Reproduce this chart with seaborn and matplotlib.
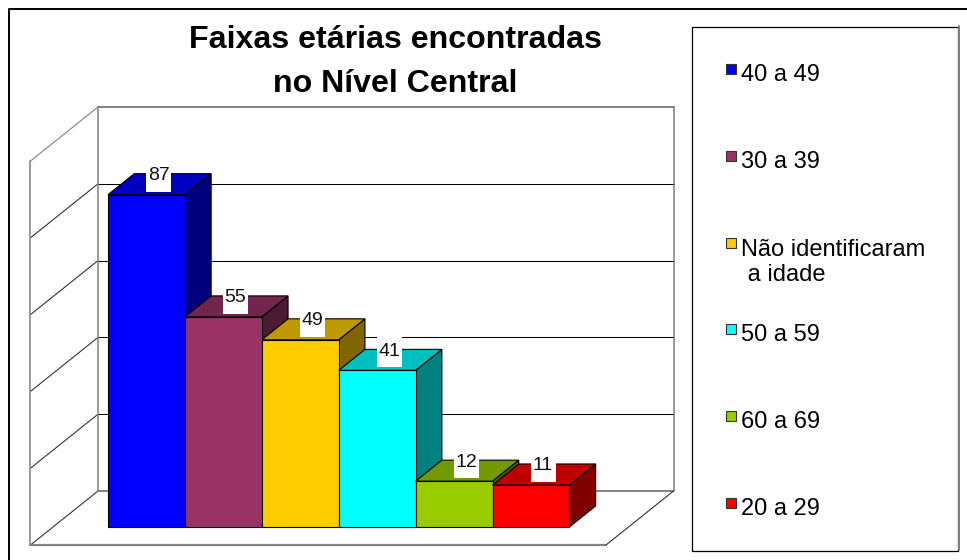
#!/usr/bin/env python3
"""Faixas etarias no Nivel Central: Excel-style 3D column chart."""

import matplotlib
matplotlib.use("Agg")
import matplotlib.patches as mpatches
import matplotlib.lines as mlines
import matplotlib.pyplot as plt
from matplotlib.transforms import Affine2D
import pandas as pd
import seaborn as sns

TITLE = "Faixas etárias encontradas\nno Nível Central"
CATEGORIES = ["40 a 49", "30 a 39", "Não identificaram\n a idade",
              "50 a 59", "60 a 69", "20 a 29"]
VALUES = [87, 55, 49, 41, 12, 11]
GRID_VALUES = [0, 20, 40, 60, 80, 100]
FRONT_COLORS = ["#0000FF", "#993366", "#FFCC00", "#00FFFF", "#99CC00", "#FF0000"]
TOP_COLORS = ["#0000BF", "#73264D", "#BF9900", "#00BFBF", "#739900", "#BF0000"]
SIDE_COLORS = ["#00007F", "#4D1A33", "#806600", "#008080", "#4D6600", "#800000"]

# pixel geometry of the projection
W, H = 967, 560
BAR_PX = 76.9
BAR_LEFT_PX = 108.0
BASE_PX = 527.0
UNIT_PX = 3.82
WALL_K = 3.84 / 3.82  # the walls run slightly taller than the bar scale
SLOPE = 1.25  # x shift per px of depth
BAR_DEPTH = 21.0
FLOOR_FRONT = -18.0
FLOOR_BACK = 36.0
WALL_LEFT_X = (30.5 + 18 * SLOPE - BAR_LEFT_PX) / BAR_PX - 0.5
WALL_RIGHT_X = (606 + 18 * SLOPE - BAR_LEFT_PX) / BAR_PX - 0.5
LABEL_W, LABEL_H = 25, 36
LEGEND_Y = [73, 160, 247, 333, 420, 507]

GRAY = "#808080"


def proj(x, y, d):
    """Data position pushed back by d pixels of depth."""
    return x + d * SLOPE / BAR_PX, y + d / UNIT_PX


def main():
    sns.set_theme(style="white")
    plt.rcParams["font.family"] = ["Liberation Sans", "DejaVu Sans"]

    fig = plt.figure(figsize=(W / 100, H / 100), dpi=100, facecolor="white")
    ax = fig.add_axes([0, 0, 1, 1])

    df = pd.DataFrame({"faixa": CATEGORIES, "n": VALUES})
    sns.barplot(
        data=df, x="faixa", y="n", hue="faixa", hue_order=CATEGORIES,
        palette=FRONT_COLORS, saturation=1, width=1, dodge=False,
        edgecolor="black", linewidth=0.8, legend=False, ax=ax,
    )
    x0 = -0.5 - BAR_LEFT_PX / BAR_PX
    ax.set_xlim(x0, x0 + W / BAR_PX)
    ax.set_ylim(-(H - BASE_PX) / UNIT_PX, BASE_PX / UNIT_PX)
    ax.set_axis_off()

    # walls and floor
    top = GRID_VALUES[-1]
    for v in GRID_VALUES:
        edge = v in (GRID_VALUES[0], top)
        color = GRAY if edge else "black"
        lw = 1.4 if edge else 0.75
        p0 = proj(WALL_LEFT_X, v * WALL_K, FLOOR_FRONT)
        p1 = proj(WALL_LEFT_X, v * WALL_K, FLOOR_BACK)
        p2 = proj(WALL_RIGHT_X, v * WALL_K, FLOOR_BACK)
        ax.plot([p0[0], p1[0]], [p0[1], p1[1]], color=GRAY if v == top else "#333333",
                lw=0.8, zorder=1)
        ax.plot([p1[0], p2[0]], [p1[1], p2[1]], color=color, lw=lw, zorder=1)
    for wx, d in [(WALL_LEFT_X, FLOOR_FRONT), (WALL_LEFT_X, FLOOR_BACK), (WALL_RIGHT_X, FLOOR_BACK)]:
        a, b = proj(wx, 0, d), proj(wx, top * WALL_K, d)
        ax.plot([a[0], b[0]], [a[1], b[1]], color=GRAY, lw=1.1, zorder=1)
    a, b = proj(WALL_LEFT_X, 0, FLOOR_FRONT), proj(WALL_RIGHT_X, 0, FLOOR_FRONT)
    ax.plot([a[0], b[0]], [a[1], b[1]], color=GRAY, lw=1.6, zorder=1)
    c = proj(WALL_RIGHT_X, 0, FLOOR_BACK)
    ax.plot([b[0], c[0]], [b[1], c[1]], color="#333333", lw=0.8, zorder=1)

    # side and top faces; later bars cover the sides of earlier ones
    for i, (patch, value) in enumerate(zip(ax.patches, VALUES)):
        z = 3 + i
        patch.set_zorder(z + 0.5)
        xl, xr = i - 0.5, i + 0.5
        side = [(xr, 0), (xr, value), proj(xr, value, BAR_DEPTH), proj(xr, 0, BAR_DEPTH)]
        roof = [(xl, value), (xr, value), proj(xr, value, BAR_DEPTH), proj(xl, value, BAR_DEPTH)]
        ax.add_patch(mpatches.Polygon(side, closed=True, fc=SIDE_COLORS[i], ec="black",
                                      lw=0.8, zorder=z))
        ax.add_patch(mpatches.Polygon(roof, closed=True, fc=TOP_COLORS[i], ec="black",
                                      lw=0.8, zorder=z))

    # value labels on white boxes, sitting on the back edge of each top
    for i, value in enumerate(VALUES):
        tx = proj(i, value, BAR_DEPTH / 2)[0] - 1 / BAR_PX
        ty = proj(i, value, BAR_DEPTH)[1]
        bw, bh = LABEL_W / BAR_PX, LABEL_H / UNIT_PX
        ax.add_patch(mpatches.Rectangle((tx - bw / 2, ty - bh / 2), bw, bh, fc="white",
                                        ec="none", zorder=20))
        ax.text(tx, ty, str(value), ha="center", va="center_baseline", fontsize=14,
                color="#111111", zorder=21)

    # pixel space for title, frame and legend
    px = Affine2D().scale(1, -1).translate(0, H)
    fig.text(395.5, 62, TITLE, transform=px, ha="center", va="center", fontsize=23.1,
             fontweight="bold", color="black", linespacing=1.57)
    fig.add_artist(mlines.Line2D([8.5, 8.5, W + 5], [H + 5, 9, 9], transform=px,
                                 color="black", lw=1.4))
    fig.add_artist(mpatches.Rectangle((691.5, 26.5), 266.5, 524, transform=px,
                                      fc="none", ec="black", lw=0.9))
    fig.add_artist(mlines.Line2D([958.5, 958.5], [26, 550], transform=px, color=GRAY, lw=1.4))

    for label, color, y in zip(CATEGORIES, FRONT_COLORS, LEGEND_Y):
        fig.add_artist(mpatches.Rectangle((725.5, y - 9), 10, 10, transform=px, fc=color,
                                          ec="#333333", lw=0.8))
        # baseline anchors the last line, so push wrapped labels down one line
        fig.text(741, y + 8 + 26 * label.count("\n"), label, transform=px, ha="left",
                 va="baseline", fontsize=17, color="black", linespacing=1.19)

    fig.savefig("out.png", dpi=100, facecolor="white")
    plt.close(fig)


if __name__ == "__main__":
    main()
